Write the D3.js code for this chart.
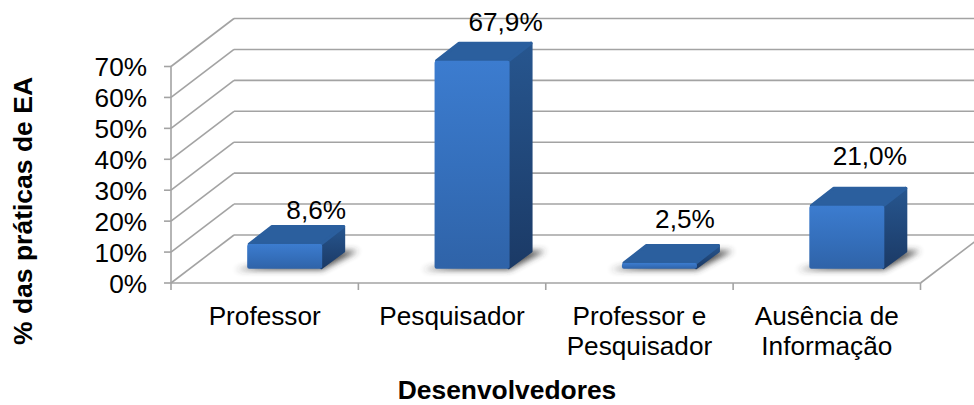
<!DOCTYPE html>
<html><head><meta charset="utf-8">
<script src="https://cdn.jsdelivr.net/npm/d3@7"></script>
<style>html,body{margin:0;padding:0;background:#fff}svg{display:block}text{font-family:"Liberation Sans",Arial,sans-serif;fill:#000}</style>
</head><body><script>
const categories=[["Professor"],["Pesquisador"],["Professor e","Pesquisador"],["Ausência de","Informação"]];
const values=[8.6,67.9,2.5,21.0];
const valueLabels=["8,6%","67,9%","2,5%","21,0%"];
const yTicks=[0,10,20,30,40,50,60,70];
const xTitle="Desenvolvedores", yTitle="% das práticas de EA";

const W=974,H=405,wallDx=63,wallDy=-48,barDx=23,barDy=-19,fs=26.2;
const labelNudge=[[31.5,-6],[33.5,-11],[25.5,-16],[23,-22]];
const svg=d3.select("body").append("svg").attr("width",W).attr("height",H);
const x=d3.scaleBand().domain(d3.range(4)).range([171,920.5]);
const y=d3.scaleLinear().domain([0,70]).range([283,66.5]);
const k=y(0)-y(1);
const defs=svg.append("defs");
function grad(id,stops){const g=defs.append("linearGradient").attr("id",id).attr("x1",0).attr("y1",0).attr("x2",0).attr("y2",1);
 stops.forEach(s=>g.append("stop").attr("offset",s[0]).attr("stop-color",s[1]));}
grad("front",[[0,"#3c7ccf"],[0.5,"#3570bd"],[1,"#2f63a8"]]);
grad("side",[[0,"#27568f"],[1,"#1b3a66"]]);
defs.append("filter").attr("id","blur").attr("x","-30%").attr("y","-100%").attr("width","160%").attr("height","300%")
 .append("feGaussianBlur").attr("stdDeviation",3);

const grid="#a3a3a3";
const gG=svg.append("g").attr("stroke",grid).attr("stroke-width",1.6).attr("fill","none");
yTicks.forEach(t=>{
 gG.append("line").attr("x1",x.range()[0]).attr("y1",y(t)).attr("x2",x.range()[0]+wallDx).attr("y2",y(t)+wallDy);
 gG.append("line").attr("x1",x.range()[0]+wallDx).attr("y1",y(t)+wallDy).attr("x2",x.range()[1]+wallDx).attr("y2",y(t)+wallDy);
 gG.append("line").attr("x1",x.range()[0]-7).attr("y1",y(t)).attr("x2",x.range()[0]).attr("y2",y(t));
});
gG.append("line").attr("x1",x.range()[0]).attr("y1",y(0)).attr("x2",x.range()[0]).attr("y2",y(70));
gG.append("line").attr("x1",x.range()[0]).attr("y1",y(0)).attr("x2",x.range()[1]).attr("y2",y(0));
gG.append("line").attr("x1",x.range()[1]).attr("y1",y(0)).attr("x2",x.range()[1]+wallDx).attr("y2",y(0)+wallDy);
d3.range(5).forEach(i=>{const px=x.range()[0]+i*x.step();
 gG.append("line").attr("x1",px).attr("y1",y(0)).attr("x2",px).attr("y2",y(0)+7);});

svg.append("g").selectAll("text").data(yTicks).join("text")
 .attr("x",147).attr("y",d=>y(d)+9.5).attr("text-anchor","end").attr("font-size",fs).text(d=>d+"%");

const barW=75, base=y(0)-14.3;
const bars=svg.append("g").selectAll("g").data(values).join("g");
bars.each(function(v,i){
 const g=d3.select(this);
 const x0=x(i)+x.bandwidth()/2+20-barW/2,x1=x0+barW,top=base-v*k+2;
 const pts=a=>a.map(p=>p.join(",")).join(" ");
 g.append("polygon").attr("points",pts([[x0-12,base+1],[x1,base+1],[x1+barDx+13,base+barDy+1],[x1+barDx-8,base+barDy+1]]))
  .attr("fill","#333").attr("opacity",0.85).attr("filter","url(#blur)");
 const face=(p,f)=>g.append("polygon").attr("points",pts(p)).attr("fill",f).attr("stroke",f).attr("stroke-width",3).attr("stroke-linejoin","round");
 face([[x1-1,top],[x1+barDx-1.5,top+barDy+1.5],[x1+barDx-1.5,base+barDy+1.5],[x1-1,base-1]],"url(#side)");
 face([[x0+2,top],[x0+barDx+1.5,top+barDy+1.5],[x1+barDx-1.5,top+barDy+1.5],[x1-1,top]],"#2b5f9e");
 g.append("rect").attr("x",x0).attr("y",top).attr("width",barW).attr("height",Math.max(base-top,0.1))
  .attr("rx",2).attr("fill","url(#front)");
 g.append("text").attr("x",x0+barW/2+labelNudge[i][0]).attr("y",top+barDy+labelNudge[i][1]).attr("text-anchor","middle").attr("font-size",fs).text(valueLabels[i]);
});

const catG=svg.append("g").selectAll("text").data(categories).join("text")
 .attr("text-anchor","middle").attr("font-size",fs)
 .attr("x",(d,i)=>x(i)+x.bandwidth()/2).attr("y",325);
catG.selectAll("tspan").data(d=>d).join("tspan").attr("x",function(){return d3.select(this.parentNode).attr("x")})
 .attr("dy",(d,i)=>i?30:0).text(d=>d);

svg.append("text").attr("x",507).attr("y",399).attr("text-anchor","middle").attr("font-size",26.4).attr("font-weight","bold").text(xTitle);
svg.append("text").attr("transform","translate(32,211) rotate(-90)").attr("text-anchor","middle").attr("font-size",26.5).attr("font-weight","bold").text(yTitle);
</script></body></html>
